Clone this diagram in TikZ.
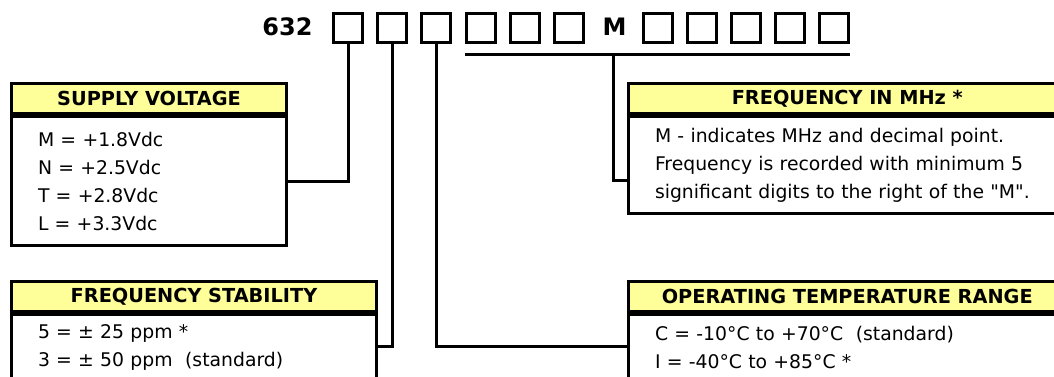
\documentclass[tikz,border=0pt]{standalone}
\usepackage{fontspec}
\setmainfont{DejaVu Sans}[Ligatures=TeXOff]
\usetikzlibrary{calc}
\definecolor{hdr}{HTML}{FFFF99}
\begin{document}
\begin{tikzpicture}[x=1pt,y=-1pt,
  lw/.style={line width=3pt},
  codebox/.style={draw,lw,minimum width=29pt,minimum height=29pt,inner sep=0pt},
  bigbold/.style={inner sep=0pt,font=\bfseries\fontsize{24}{28}\selectfont},
  hdrbox/.style={draw,lw,fill=hdr,minimum height=30pt,inner sep=0pt,font=\bfseries\fontsize{19.3}{23}\selectfont},
  bodybox/.style={draw,lw,fill=white,inner xsep=26.5pt,inner ysep=0pt,align=left,font=\fontsize{18.8}{28}\selectfont},
  conn/.style={lw}]
\clip (0,0) rectangle (1054,376);
\fill[white] (0,0) rectangle (1054,376);

% part number
\node[bigbold] (pn) at (287.5,26.5) {632};
\node[codebox] (c1) at (348,28) {};
\node[codebox] (c2) at (392.2,28) {};
\node[codebox] (c3) at (436.4,28) {};
\node[codebox] (c4) at (480.6,28) {};
\node[codebox] (c5) at (524.8,28) {};
\node[codebox] (c6) at (569,28) {};
\node[bigbold] (mm) at (614.5,27) {M};
\node[codebox] (c7) at (657.5,28) {};
\node[codebox] (c8) at (701.6,28) {};
\node[codebox] (c9) at (745.7,28) {};
\node[codebox] (c10) at (789.8,28) {};
\node[codebox] (c11) at (833.9,28) {};

% boxes
\node[hdrbox,minimum width=275pt] (sh) at (149,98.5) {SUPPLY VOLTAGE};
\node[bodybox,text width=222pt,minimum height=129pt] (sb) at (149,181)
  {M = +1.8Vdc\\N = +2.5Vdc\\T = +2.8Vdc\\L = +3.3Vdc};

\node[hdrbox,minimum width=365pt] (th) at (194,296.5) {FREQUENCY STABILITY};
\node[bodybox,text width=312pt,minimum height=65pt] (tb) at (194,347)
  {5 = ± 25 ppm *\\3 = ± 50 ppm\ \ (standard)};

\node[hdrbox,minimum width=437.5pt] (fh) at (847.25,98.5) {FREQUENCY IN MHz *};
\node[bodybox,text width=384.5pt,minimum height=97pt] (fb) at (847.25,165)
  {M - indicates MHz and decimal point.\\Frequency is recorded with minimum 5\\significant digits to the right of the "M".};

\node[hdrbox,minimum width=437.5pt] (oh) at (847.25,296.5) {OPERATING TEMPERATURE RANGE};
\node[bodybox,text width=384.5pt,minimum height=65pt] (ob) at (847.25,347)
  {C = -10°C to +70°C\ \ (standard)\\I = -40°C to +85°C *};

% connectors
\coordinate (barL) at ($(c4.south west)+(0,10.5)$);
\coordinate (barR) at ($(c11.south east)+(0,10.5)$);
\draw[conn] (barL) -- (barR);
\coordinate (fj) at (613.5,54.5);
\draw[conn] (fj) |- ($(fb.west)+(0,15)$);
\draw[conn] (c1.south) |- (sb.east);
\draw[conn] (c2.south) |- ($(tb.east)+(0,-1)$);
\draw[conn] (c3.south) |- ($(ob.west)+(0,-1)$);
\end{tikzpicture}
\end{document}
